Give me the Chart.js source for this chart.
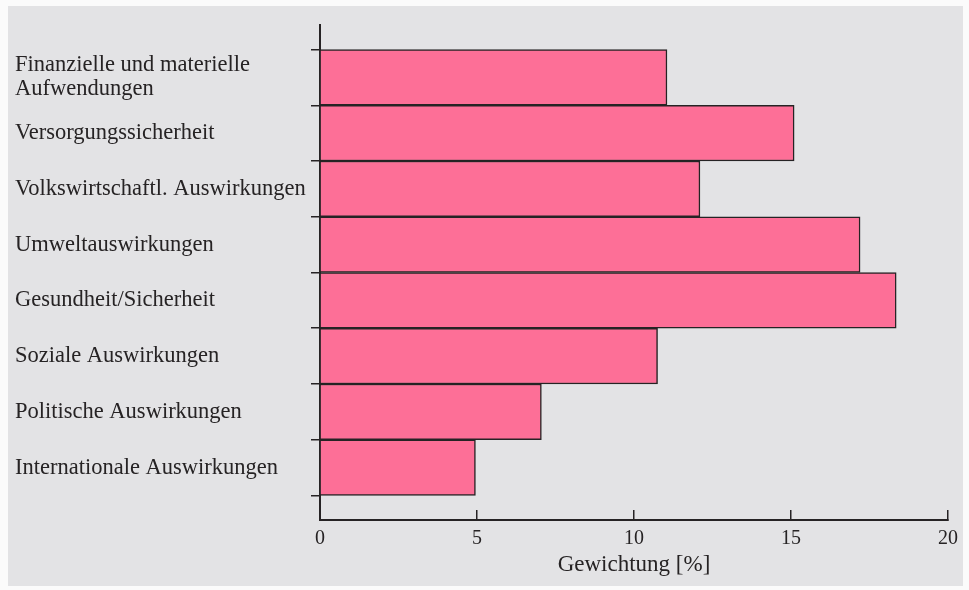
<!DOCTYPE html>
<html>
<head>
<meta charset="utf-8">
<script src="https://cdn.jsdelivr.net/npm/chart.js@4"></script>
<style>
  html, body { margin: 0; padding: 0; background: #fbfbfb; }
  #wrap { position: relative; width: 969px; height: 590px; }
  #paper { position: absolute; left: 8px; top: 6px; width: 955px; height: 580px; background: #e3e3e5; }
  #chart { position: absolute; left: 0; top: 0; }
</style>
</head>
<body>
<div id="wrap">
  <div id="paper"></div>
  <canvas id="chart" width="969" height="590"></canvas>
</div>
<script>
  // Kategorien (von oben nach unten)
  const categories = [
    ['Finanzielle und materielle', 'Aufwendungen'],
    'Versorgungssicherheit',
    'Volkswirtschaftl. Auswirkungen',
    'Umweltauswirkungen',
    'Gesundheit/Sicherheit',
    'Soziale Auswirkungen',
    'Politische Auswirkungen',
    'Internationale Auswirkungen'
  ];
  // Gewichtung in %
  const weights = [11.05, 15.1, 12.1, 17.2, 18.35, 10.75, 7.05, 4.95];
  const xTicks = [0, 5, 10, 15, 20];
  const xTitle = 'Gewichtung [%]';

  const ink = '#262324';
  const serif = "'Liberation Serif', 'DejaVu Serif', serif";

  const points = weights.map((v, i) => ({ x: v, y: i }));

  new Chart(document.getElementById('chart'), {
    type: 'bar',
    data: {
      datasets: [{
        data: points,
        backgroundColor: '#fd6f97',
        borderColor: ink,
        borderWidth: 1.5,
        categoryPercentage: 1,
        barPercentage: 1
      }]
    },
    options: {
      indexAxis: 'y',
      responsive: false,
      animation: false,
      layout: { padding: { left: 15, top: 25, right: 21, bottom: 0 } },
      plugins: { legend: { display: false }, tooltip: { enabled: false } },
      scales: {
        x: {
          type: 'linear',
          min: 0,
          max: 20,
          afterBuildTicks: s => { s.ticks = xTicks.map(v => ({ value: v })); },
          afterFit: s => { s.height = 70; s.paddingLeft = 0; s.paddingRight = 0; },
          border: { color: ink, width: 2 },
          grid: { drawOnChartArea: false, drawTicks: true, tickLength: -10, color: ink, lineWidth: 1.5 },
          ticks: { color: ink, padding: 17, font: { family: serif, size: 20 } },
          title: {
            display: true,
            text: xTitle,
            color: ink,
            padding: { top: 0, bottom: 11 },
            font: { family: serif, size: 23 }
          }
        },
        y: {
          type: 'linear',
          reverse: true,
          offset: false,
          min: -0.94,
          max: 7.94,
          afterBuildTicks: s => { s.ticks = categories.map((c, i) => ({ value: i })); },
          afterFit: s => { s.width = 305; },
          border: { color: ink, width: 2 },
          grid: { offset: true, drawOnChartArea: false, drawTicks: true, tickLength: 9, color: ink, lineWidth: 1.5 },
          ticks: {
            crossAlign: 'far',
            color: ink,
            font: { family: serif, size: 22.5, lineHeight: 1.07 },
            callback: v => categories[v]
          }
        }
      }
    }
  });
</script>
</body>
</html>
